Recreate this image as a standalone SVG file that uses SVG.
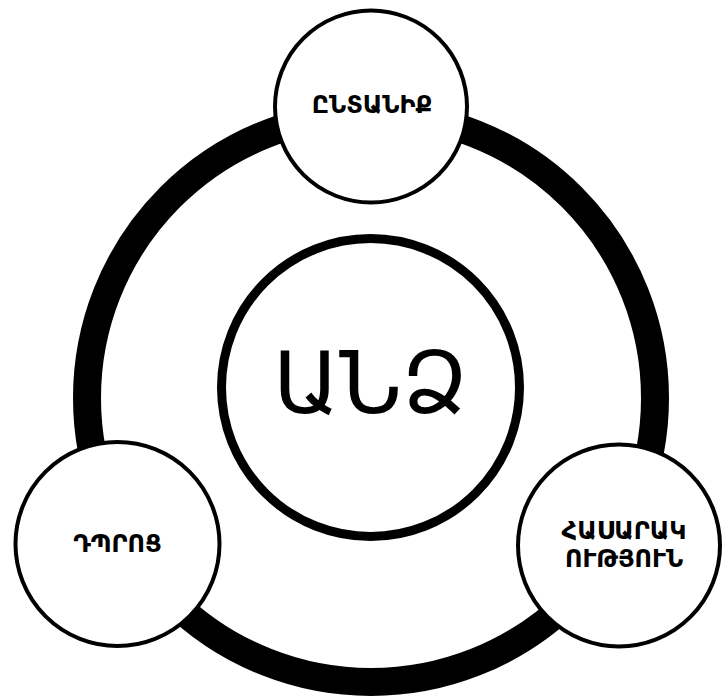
<svg xmlns="http://www.w3.org/2000/svg" width="724" height="696" viewBox="0 0 724 696">
  <style>
    .node { fill: #ffffff; stroke: #000000; stroke-width: 4; }
    .lbl { font-family: "DejaVu Sans", "Noto Sans", sans-serif; font-weight: bold; font-size: 24px; fill: #000000; text-anchor: middle; }
    .big { font-family: "DejaVu Sans", "Noto Sans", sans-serif; font-size: 86px; fill: #000000; text-anchor: middle; }
  </style>
  <rect width="724" height="696" fill="#ffffff"/>
  <g id="connectors">
    <circle cx="371" cy="398" r="284" fill="none" stroke="#000000" stroke-width="28"/>
  </g>
  <g id="center">
    <circle cx="370.5" cy="387.5" r="149" fill="#ffffff" stroke="#000000" stroke-width="9"/>
    <text class="big" x="370.5" y="413">ԱՆՁ</text>
  </g>
  <g id="top">
    <circle class="node" cx="371" cy="106.5" r="96"/>
    <text class="lbl" x="372" y="113">ԸՆՏԱՆԻՔ</text>
  </g>
  <g id="left">
    <circle class="node" cx="117.5" cy="544" r="102"/>
    <text class="lbl" x="117.5" y="552">ԴՊՐՈՑ</text>
  </g>
  <g id="right">
    <circle class="node" cx="619" cy="545.5" r="101"/>
    <text class="lbl" x="624" y="539">ՀԱՍԱՐԱԿ</text>
    <text class="lbl" x="624" y="567">ՈՒԹՅՈՒՆ</text>
  </g>
</svg>
